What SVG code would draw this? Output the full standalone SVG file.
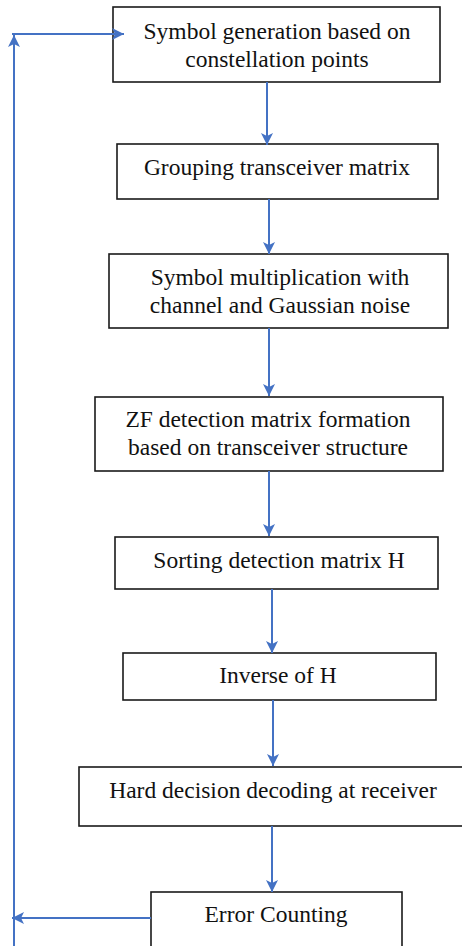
<svg xmlns="http://www.w3.org/2000/svg" width="462" height="946" viewBox="0 0 462 946">
<style>
.box{fill:#fff;stroke:#1a1a1a;stroke-width:1.6}
.t{font-family:"Liberation Serif","Times New Roman","DejaVu Serif",serif;font-size:23.5px;fill:#111;text-anchor:middle}
.c{stroke:#4472C4;stroke-width:2;fill:none}
</style>
<defs>
<marker id="ah" viewBox="0 0 10 10" refX="10" refY="5" markerWidth="12" markerHeight="12" markerUnits="userSpaceOnUse" orient="auto">
<path d="M0,0 L10,5 L0,10 L2.5,5 Z" fill="#4472C4"/>
</marker>
</defs>
<rect width="462" height="946" fill="#fff"/>
<g id="n1"><rect class="box" x="113" y="7" width="327" height="75"/><text class="t" x="277" y="39">Symbol generation based on</text><text class="t" x="277" y="67">constellation points</text></g>
<g id="n2"><rect class="box" x="117" y="144" width="321" height="55"/><text class="t" x="277" y="175">Grouping transceiver matrix</text></g>
<g id="n3"><rect class="box" x="109" y="254" width="339" height="74"/><text class="t" x="280" y="285">Symbol multiplication with</text><text class="t" x="280" y="313">channel and Gaussian noise</text></g>
<g id="n4"><rect class="box" x="95" y="397" width="348" height="74"/><text class="t" x="268" y="427">ZF detection matrix formation</text><text class="t" x="268" y="455">based on transceiver structure</text></g>
<g id="n5"><rect class="box" x="115" y="537" width="323" height="52"/><text class="t" x="279" y="568">Sorting detection matrix H</text></g>
<g id="n6"><rect class="box" x="123" y="653" width="313" height="47"/><text class="t" x="278" y="683">Inverse of H</text></g>
<g id="n7"><rect class="box" x="79" y="767" width="395" height="59"/><text class="t" x="273" y="798">Hard decision decoding at receiver</text></g>
<g id="n8"><rect class="box" x="151" y="892" width="251" height="70"/><text class="t" x="276" y="922">Error Counting</text></g>
<g id="connectors">
<path class="c" d="M267,82 V145" marker-end="url(#ah)"/>
<path class="c" d="M269,199 V254" marker-end="url(#ah)"/>
<path class="c" d="M269,328 V396" marker-end="url(#ah)"/>
<path class="c" d="M269,471 V536" marker-end="url(#ah)"/>
<path class="c" d="M272,589 V653" marker-end="url(#ah)"/>
<path class="c" d="M273,700 V766" marker-end="url(#ah)"/>
<path class="c" d="M272,826 V892" marker-end="url(#ah)"/>
<path class="c" d="M151,918 H12" marker-end="url(#ah)"/>
<path class="c" d="M14,946 V35" marker-end="url(#ah)"/>
<path class="c" d="M12,34 H124" marker-end="url(#ah)"/>
</g>
</svg>
